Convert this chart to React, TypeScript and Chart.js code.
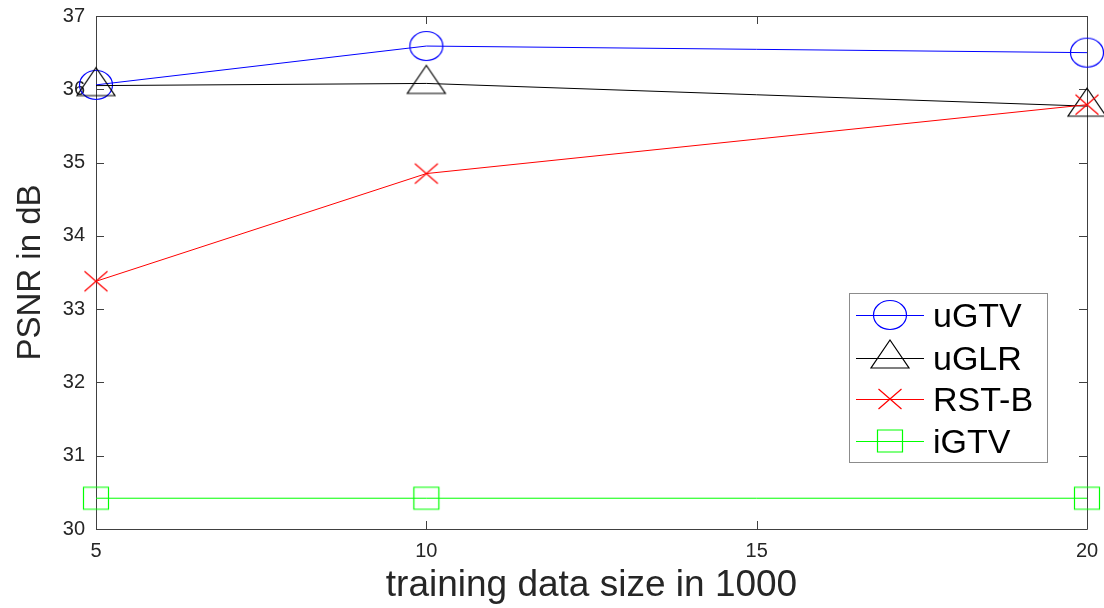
import React, { useEffect, useRef } from "react";
import { Chart, registerables } from "chart.js";

Chart.register(...registerables);

const xValues = [5, 10, 20];
const uGTV = [36.06, 36.59, 36.5];
const uGLR = [36.05, 36.08, 35.77];
const rstB = [33.38, 34.85, 35.79];
const iGTV = [30.42, 30.42, 30.42];
const seriesNames = ["uGTV", "uGLR", "RST-B", "iGTV"];
const seriesColors = ["#0000ff", "#000000", "#ff0000", "#00ff00"];
const seriesMarkers = ["circle", "triangle", "cross", "square"];
const xTicks = [5, 10, 15, 20];
const yTicks = [30, 31, 32, 33, 34, 35, 36, 37];
const xTitle = "training data size in 1000";
const yTitle = "PSNR in dB";

const FONT = "'Liberation Sans', Arial, Helvetica, sans-serif";
const AXIS_COLOR = "#404040";
const TEXT_COLOR = "#262626";

function makeMarker(kind: string, color: string): HTMLCanvasElement {
  const c = document.createElement("canvas");
  c.width = 42;
  c.height = 42;
  const ctx = c.getContext("2d")!;
  const cx = 21;
  const cy = 21;
  ctx.strokeStyle = color;
  ctx.lineWidth = 1.2;
  ctx.beginPath();
  if (kind === "circle") {
    ctx.ellipse(cx, cy, 16.5, 14.5, 0, 0, Math.PI * 2);
  } else if (kind === "triangle") {
    ctx.moveTo(cx, cy - 18);
    ctx.lineTo(cx + 19, cy + 10);
    ctx.lineTo(cx - 19, cy + 10);
    ctx.closePath();
  } else if (kind === "cross") {
    ctx.moveTo(cx - 11.5, cy - 10);
    ctx.lineTo(cx + 11.5, cy + 10);
    ctx.moveTo(cx + 11.5, cy - 10);
    ctx.lineTo(cx - 11.5, cy + 10);
  } else {
    ctx.rect(cx - 12.5, cy - 11, 25, 22);
  }
  ctx.stroke();
  return c;
}

const TICK_LEN = 8;

const matlabAxes = {
  id: "matlabAxes",
  beforeDatasetsDraw(chart: any) {
    const { ctx, chartArea } = chart;
    const xs = chart.scales.x;
    const ys = chart.scales.y;
    const { left, right, top, bottom } = chartArea;
    ctx.save();
    ctx.strokeStyle = AXIS_COLOR;
    ctx.lineWidth = 1;
    ctx.beginPath();
    ctx.rect(Math.round(left) + 0.5, Math.round(top) + 0.5, Math.round(right - left), Math.round(bottom - top));
    ctx.stroke();
    ctx.beginPath();
    for (const v of xTicks) {
      const px = Math.round(xs.getPixelForValue(v)) + 0.5;
      ctx.moveTo(px, bottom);
      ctx.lineTo(px, bottom - TICK_LEN);
      ctx.moveTo(px, top);
      ctx.lineTo(px, top + TICK_LEN);
    }
    for (const v of yTicks) {
      const py = Math.round(ys.getPixelForValue(v)) + 0.5;
      ctx.moveTo(left, py);
      ctx.lineTo(left + TICK_LEN, py);
      ctx.moveTo(right, py);
      ctx.lineTo(right - TICK_LEN, py);
    }
    ctx.stroke();
    ctx.restore();
  },
};

const matlabLegend = {
  id: "matlabLegend",
  afterDraw(chart: any) {
    const { ctx } = chart;
    const boxL = 849.5;
    const boxT = 293.5;
    const boxW = 198;
    const boxH = 169;
    ctx.save();
    ctx.fillStyle = "#ffffff";
    ctx.fillRect(boxL, boxT, boxW, boxH);
    ctx.strokeStyle = "#8c8c8c";
    ctx.lineWidth = 1;
    ctx.strokeRect(boxL, boxT, boxW, boxH);
    const rowY = [315, 358, 399, 441];
    chart.data.datasets.forEach((ds: any, i: number) => {
      const y = rowY[i];
      ctx.strokeStyle = ds.borderColor;
      ctx.lineWidth = 1;
      ctx.beginPath();
      ctx.moveTo(856, y + 0.5);
      ctx.lineTo(924, y + 0.5);
      ctx.stroke();
      const img = ds.pointStyle as HTMLCanvasElement;
      ctx.drawImage(img, 890 - img.width / 2, y - img.height / 2);
      ctx.fillStyle = "#000000";
      ctx.font = `34px ${FONT}`;
      ctx.textBaseline = "alphabetic";
      ctx.textAlign = "left";
      ctx.fillText(ds.label, 933, y + 12);
    });
    ctx.restore();
  },
};

export default function App() {
  const ref = useRef<HTMLCanvasElement | null>(null);
  useEffect(() => {
    if (!ref.current) return;
    const allSeries = [uGTV, uGLR, rstB, iGTV];
    const datasets = allSeries.map((vals, i) => {
      const marker = makeMarker(seriesMarkers[i], seriesColors[i]);
      return {
        label: seriesNames[i],
        data: xValues.map((x, j) => ({ x, y: vals[j] })),
        borderColor: seriesColors[i],
        backgroundColor: seriesColors[i],
        borderWidth: 1,
        pointStyle: marker,
        pointRadius: 15,
        pointHoverRadius: 15,
        tension: 0,
        fill: false,
        clip: false,
        order: allSeries.length - i,
      };
    });
    const chart = new Chart(ref.current, {
      type: "line",
      data: { datasets } as any,
      plugins: [matlabAxes, matlabLegend],
      options: {
        animation: false,
        responsive: false,
        maintainAspectRatio: false,
        layout: { autoPadding: false, padding: { top: 16, right: 17, left: 0, bottom: 0 } },
        plugins: {
          legend: { display: false },
          tooltip: { enabled: false },
          title: { display: false },
        },
        scales: {
          x: {
            type: "linear",
            min: 5,
            max: 20,
            afterBuildTicks: (s: any) => {
              s.ticks = xTicks.map((v) => ({ value: v }));
            },
            afterFit: (s: any) => {
              s.height = 79;
              s.paddingLeft = 0;
              s.paddingRight = 0;
            },
            grid: { display: false, drawTicks: false },
            border: { display: false },
            ticks: {
              autoSkip: false,
              maxRotation: 0,
              padding: 10,
              color: TEXT_COLOR,
              font: { family: FONT, size: 20 },
            },
            title: {
              display: true,
              text: xTitle,
              color: TEXT_COLOR,
              font: { family: FONT, size: 37 },
              padding: { top: 0, bottom: 0 },
            },
          },
          y: {
            type: "linear",
            min: 30,
            max: 37,
            afterBuildTicks: (s: any) => {
              s.ticks = yTicks.map((v) => ({ value: v }));
            },
            afterFit: (s: any) => {
              s.width = 96;
              s.paddingTop = 0;
              s.paddingBottom = 0;
            },
            grid: { display: false, drawTicks: false },
            border: { display: false },
            ticks: {
              autoSkip: false,
              padding: 11,
              color: TEXT_COLOR,
              font: { family: FONT, size: 20 },
            },
            title: {
              display: true,
              text: yTitle,
              color: TEXT_COLOR,
              font: { family: FONT, size: 33 },
              padding: { top: 11, bottom: 0 },
            },
          },
        },
      } as any,
    });
    return () => chart.destroy();
  }, []);
  return (
    <div style={{ position: "fixed", left: 0, top: 0, width: 1104, height: 608, background: "#ffffff" }}>
      <canvas ref={ref} width={1104} height={608} style={{ display: "block", width: 1104, height: 608 }} />
    </div>
  );
}
